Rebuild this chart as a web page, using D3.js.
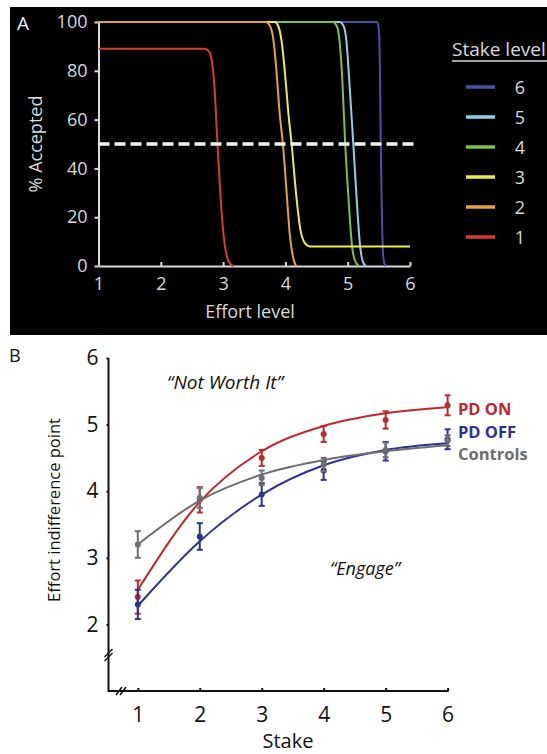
<!DOCTYPE html>
<html>
<head>
<meta charset="utf-8">
<script src="https://cdn.jsdelivr.net/npm/d3@7"></script>
<style>
body { margin: 0; background: #fff; }
svg { display: block; }
</style>
</head>
<body>
<svg id="fig" width="547" height="754"></svg>
<script>
// ---- panel A data (effort level, % accepted)
var effortTicks = [1, 2, 3, 4, 5, 6];
var pctTicks = [0, 20, 40, 60, 80, 100];
var stakeLevels = [6, 5, 4, 3, 2, 1];
var stakeColors = ["#d83a36", "#e9a23a", "#ecec4c", "#7dc142", "#8dd0e6", "#4b4fa8"];

var acceptStake1 = [[1, 89], [2.7, 89], [2.77, 88], [2.82, 84], [2.86, 74], [2.91, 50], [2.96, 28], [3.01, 12], [3.06, 4], [3.11, 1], [3.17, 0]];
var acceptStake2 = [[1, 100], [3.68, 100], [3.75, 98.5], [3.8, 94], [3.85, 82], [3.91, 62], [3.96, 50], [4.02, 30], [4.07, 13], [4.12, 4], [4.17, 0]];
var acceptStake3 = [[1, 100], [3.83, 100], [3.89, 98], [3.94, 92], [3.99, 80], [4.05, 62], [4.1, 50], [4.17, 30], [4.24, 15], [4.31, 9.5], [4.4, 8], [6, 8]];
var acceptStake4 = [[1, 100], [4.76, 100], [4.83, 98], [4.87, 92], [4.91, 78], [4.96, 50], [5.02, 25], [5.07, 8], [5.12, 2], [5.18, 0]];
var acceptStake5 = [[1, 100], [4.87, 100], [4.94, 98], [4.98, 92], [5.02, 78], [5.09, 50], [5.15, 25], [5.2, 8], [5.24, 2], [5.29, 0]];
var acceptStake6 = [[1, 100], [5.47, 100], [5.5, 97], [5.52, 75], [5.53, 50], [5.55, 20], [5.57, 4], [5.6, 0]];
var acceptCurves = [acceptStake1, acceptStake2, acceptStake3, acceptStake4, acceptStake5, acceptStake6];
var criterionPct = 50;

// ---- panel B data (stake, effort indifference point)
var stakes = [1, 2, 3, 4, 5, 6];
var indiffTicks = [2, 3, 4, 5, 6];
var meanOn = [2.41, 3.87, 4.5, 4.86, 5.07, 5.29];
var errOn = [0.25, 0.19, 0.12, 0.12, 0.13, 0.15];
var fitOn = [2.52, 3.84, 4.6, 4.98, 5.17, 5.26];
var meanOff = [2.3, 3.32, 3.95, 4.31, 4.6, 4.78];
var errOff = [0.22, 0.2, 0.17, 0.14, 0.14, 0.15];
var fitOff = [2.28, 3.25, 3.95, 4.39, 4.62, 4.72];
var meanCtrl = [3.2, 3.9, 4.2, 4.4, 4.62, 4.76];
var errCtrl = [0.2, 0.15, 0.11, 0.1, 0.11, 0.08];
var fitCtrl = [3.2, 3.86, 4.25, 4.47, 4.6, 4.69];
var groupNames = ["PD ON", "PD OFF", "Controls"];
var groupColors = ["#c1272d", "#2e3192", "#6d6e71"];

var svg = d3.select("#fig");
var font = "'Open Sans', 'DejaVu Sans', sans-serif";
var intFmt = d3.format("d");

// ================= panel A =================
var axisGrey = "#d9d9d9";
svg.append("rect")
    .attr("x", 10).attr("y", 7)
    .attr("width", 537).attr("height", 328)
    .attr("fill", "#000");

var xA = d3.scaleLinear().domain([1, 6]).range([98.5, 410]);
var yA = d3.scaleLinear().domain([0, 100]).range([266, 22]);

var gA = svg.append("g");

var yAxisA = gA.append("g")
    .attr("transform", "translate(" + xA(1) + ",0)")
    .call(d3.axisLeft(yA).tickValues(pctTicks).tickFormat(intFmt).tickSize(4).tickSizeOuter(0).tickPadding(7));
var xAxisA = gA.append("g")
    .attr("transform", "translate(0," + yA(0) + ")")
    .call(d3.axisBottom(xA).tickValues(effortTicks).tickFormat(intFmt).tickSize(-4).tickSizeOuter(0));

[yAxisA, xAxisA].forEach(function(ax) {
    ax.selectAll("path, line").attr("stroke", axisGrey).attr("stroke-width", 2);
    ax.selectAll("text")
        .attr("fill", axisGrey)
        .attr("font-family", font)
        .attr("font-size", "18px");
});
xAxisA.selectAll("text").attr("y", 24).attr("dy", 0);

var lineA = d3.line()
    .x(function(d) { return xA(d[0]); })
    .y(function(d) { return yA(d[1]); })
    .curve(d3.curveMonotoneX);

// draw stake 6 first so stake 1 lies on top
stakeLevels.forEach(function(s) {
    gA.append("path")
        .attr("d", lineA(acceptCurves[s - 1]))
        .attr("fill", "none")
        .attr("stroke", stakeColors[s - 1])
        .attr("stroke-width", 2);
});

gA.append("line")
    .attr("x1", xA(1)).attr("x2", xA(6) + 5)
    .attr("y1", yA(criterionPct)).attr("y2", yA(criterionPct))
    .attr("stroke", "#f2f2f2")
    .attr("stroke-width", 3.5)
    .attr("stroke-dasharray", "11,5");

gA.append("text")
    .attr("x", 17).attr("y", 30)
    .attr("fill", "#eee")
    .attr("font-family", font)
    .attr("font-size", "19px")
    .text("A");

gA.append("text")
    .attr("transform", "translate(42," + yA(50) + ")rotate(-90)")
    .attr("text-anchor", "middle")
    .attr("fill", axisGrey)
    .attr("font-family", font)
    .attr("font-size", "18px")
    .text("% Accepted");

gA.append("text")
    .attr("x", 250).attr("y", 318)
    .attr("text-anchor", "middle")
    .attr("fill", axisGrey)
    .attr("font-family", font)
    .attr("font-size", "18px")
    .text("Effort level");

// legend
gA.append("text")
    .attr("x", 452).attr("y", 56)
    .attr("fill", axisGrey)
    .attr("font-family", font)
    .attr("font-size", "19px")
    .text("Stake level");
gA.append("line")
    .attr("x1", 452).attr("x2", 547)
    .attr("y1", 61).attr("y2", 61)
    .attr("stroke", axisGrey).attr("stroke-width", 1.5);

var legA = gA.selectAll(".legA")
    .data(stakeLevels)
    .enter().append("g")
    .attr("transform", function(d, i) { return "translate(0," + (87 + i * 30) + ")"; });
legA.append("line")
    .attr("x1", 466).attr("x2", 495)
    .attr("stroke", function(d) { return stakeColors[d - 1]; })
    .attr("stroke-width", 3.5);
legA.append("text")
    .attr("x", 520).attr("y", 6.5)
    .attr("text-anchor", "middle")
    .attr("fill", axisGrey)
    .attr("font-family", font)
    .attr("font-size", "18px")
    .text(function(d) { return d; });

// ================= panel B =================
var xB = d3.scaleLinear().domain([1, 6]).range([137.8, 447.6]);
var yB = d3.scaleLinear().domain([1, 6]).range([691, 358]);
var axisLeftX = 108.5;

var gB = svg.append("g");

gB.append("text")
    .attr("x", 9).attr("y", 362)
    .attr("fill", "#111")
    .attr("font-family", font)
    .attr("font-size", "18px")
    .text("B");

// axis lines
gB.append("path")
    .attr("d", "M" + axisLeftX + "," + yB(6) + "V" + yB(1) + "H" + (xB(6) + 1))
    .attr("fill", "none")
    .attr("stroke", "#111")
    .attr("stroke-width", 2);

var yAxisB = gB.append("g")
    .attr("transform", "translate(" + axisLeftX + ",0)")
    .call(d3.axisLeft(yB).tickValues(indiffTicks).tickFormat(intFmt).tickSize(2).tickPadding(8));
var xAxisB = gB.append("g")
    .attr("transform", "translate(0," + yB(1) + ")")
    .call(d3.axisBottom(xB).tickValues(stakes).tickFormat(intFmt).tickSize(-3));
[yAxisB, xAxisB].forEach(function(ax) {
    ax.select(".domain").remove();
    ax.selectAll("line").attr("stroke", "#111").attr("stroke-width", 2);
    ax.selectAll("text")
        .attr("fill", "#111")
        .attr("font-family", font)
        .attr("font-size", "21px");
});
xAxisB.selectAll("text").attr("y", 31).attr("dy", 0);

// axis breaks
[0, 4].forEach(function(off) {
    gB.append("line")
        .attr("x1", axisLeftX - 4).attr("y1", 661 - off)
        .attr("x2", axisLeftX + 4).attr("y2", 653 - off)
        .attr("stroke", "#111").attr("stroke-width", 1.5);
    gB.append("line")
        .attr("x1", 116 + off).attr("y1", 695)
        .attr("x2", 122 + off).attr("y2", 687)
        .attr("stroke", "#111").attr("stroke-width", 1.5);
});

gB.append("text")
    .attr("transform", "translate(60,510)rotate(-90)")
    .attr("text-anchor", "middle")
    .attr("fill", "#111")
    .attr("font-family", font)
    .attr("font-size", "16.5px")
    .text("Effort indifference point");

gB.append("text")
    .attr("x", 288).attr("y", 748)
    .attr("text-anchor", "middle")
    .attr("fill", "#111")
    .attr("font-family", font)
    .attr("font-size", "20px")
    .text("Stake");

gB.append("text")
    .attr("x", 225).attr("y", 389)
    .attr("text-anchor", "middle")
    .attr("fill", "#111")
    .attr("font-family", font)
    .attr("font-style", "italic")
    .attr("font-size", "19px")
    .text("\u201CNot Worth It\u201D");

gB.append("text")
    .attr("x", 365).attr("y", 575)
    .attr("text-anchor", "middle")
    .attr("fill", "#111")
    .attr("font-family", font)
    .attr("font-style", "italic")
    .attr("font-size", "18px")
    .text("\u201CEngage\u201D");

var groups = [
    {mean: meanOn, err: errOn, fit: fitOn},
    {mean: meanOff, err: errOff, fit: fitOff},
    {mean: meanCtrl, err: errCtrl, fit: fitCtrl}
];

var lineB = d3.line()
    .x(function(d, i) { return xB(stakes[i]); })
    .y(function(d) { return yB(d); })
    .curve(d3.curveMonotoneX);

groups.forEach(function(g, gi) {
    var col = groupColors[gi];
    var grp = gB.append("g");
    grp.append("path")
        .attr("d", lineB(g.fit))
        .attr("fill", "none")
        .attr("stroke", col)
        .attr("stroke-width", 2);
    var bars = grp.selectAll(".eb")
        .data(g.mean)
        .enter().append("g")
        .attr("transform", function(d, i) { return "translate(" + xB(stakes[i]) + ",0)"; });
    bars.append("line")
        .attr("y1", function(d, i) { return yB(d + g.err[i]); })
        .attr("y2", function(d, i) { return yB(d - g.err[i]); })
        .attr("stroke", col).attr("stroke-width", 2);
    bars.append("line")
        .attr("x1", -3).attr("x2", 3)
        .attr("y1", function(d, i) { return yB(d + g.err[i]); })
        .attr("y2", function(d, i) { return yB(d + g.err[i]); })
        .attr("stroke", col).attr("stroke-width", 2);
    bars.append("line")
        .attr("x1", -3).attr("x2", 3)
        .attr("y1", function(d, i) { return yB(d - g.err[i]); })
        .attr("y2", function(d, i) { return yB(d - g.err[i]); })
        .attr("stroke", col).attr("stroke-width", 2);
    bars.append("circle")
        .attr("cy", function(d) { return yB(d); })
        .attr("r", 3)
        .attr("fill", col);

    gB.append("text")
        .attr("x", 458).attr("y", 415 + gi * 22.5)
        .attr("fill", col)
        .attr("font-family", font)
        .attr("font-weight", "bold")
        .attr("font-size", "16.5px")
        .text(groupNames[gi]);
});
</script>
</body>
</html>
